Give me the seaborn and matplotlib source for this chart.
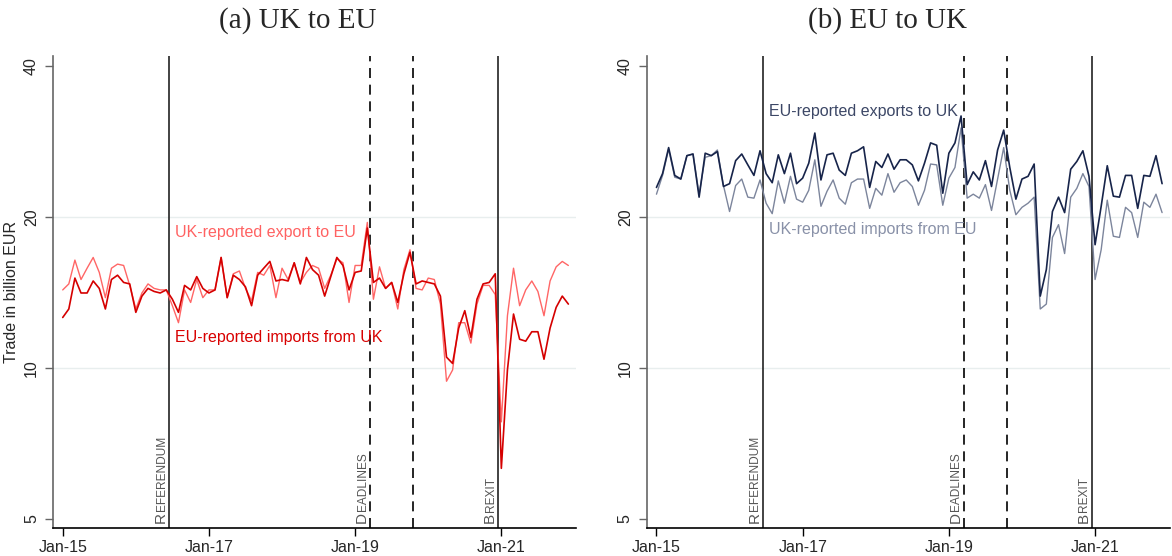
import numpy as np
import pandas as pd
import seaborn as sns
import matplotlib.pyplot as plt
import matplotlib.transforms as mtransforms
from matplotlib.ticker import NullLocator
from matplotlib.textpath import TextToPath
from matplotlib.font_manager import FontProperties

# monthly trade, billion EUR, Jan-2015 .. Dec-2021
months = pd.date_range("2015-01-01", periods=84, freq="MS")

uk_export_to_eu = [
    14.3, 14.7, 16.4, 15.0, 15.8, 16.6, 15.5, 13.8, 15.8, 16.1, 16.0, 14.6,
    13.1, 14.1, 14.7, 14.4, 14.3, 14.3, 13.3, 12.3, 14.3, 13.5, 15.0, 13.8,
    14.3, 14.3, 16.6, 13.8, 15.4, 15.6, 14.4, 13.6, 15.5, 15.3, 16.0, 13.8,
    15.8, 15.0, 16.2, 14.8, 15.5, 16.0, 15.8, 14.4, 15.3, 16.5, 16.2, 13.5,
    16.0, 16.0, 19.5, 13.7, 15.9, 14.4, 14.8, 13.1, 15.7, 17.2, 14.4, 14.3,
    15.1, 15.0, 13.4, 9.4, 9.9, 12.3, 12.3, 11.2, 13.4, 14.6, 14.6, 14.0,
    7.8, 12.7, 15.8, 13.3, 14.3, 14.9, 14.2, 12.7, 14.9, 15.9, 16.3, 16.0,
]
eu_import_from_uk = [
    12.6, 13.1, 15.1, 14.1, 14.1, 14.9, 14.4, 13.1, 15.0, 15.3, 14.8, 14.7,
    12.9, 13.9, 14.4, 14.2, 14.1, 14.3, 13.7, 12.9, 14.6, 14.3, 15.2, 14.4,
    14.1, 14.3, 16.6, 13.8, 15.3, 15.0, 14.5, 13.3, 15.3, 15.8, 16.3, 14.9,
    15.0, 14.9, 16.2, 14.7, 16.6, 15.7, 15.3, 13.9, 15.2, 16.6, 16.0, 14.3,
    15.5, 15.6, 19.0, 14.8, 15.1, 14.4, 14.8, 13.5, 15.4, 17.0, 14.7, 14.9,
    14.8, 14.7, 13.9, 10.5, 10.2, 12.0, 13.0, 11.5, 13.7, 14.7, 14.8, 15.4,
    6.3, 9.9, 12.8, 11.4, 11.3, 11.8, 11.8, 10.4, 12.0, 13.2, 13.9, 13.4,
]
eu_export_to_uk = [
    22.9, 24.4, 27.5, 24.2, 23.8, 26.5, 26.7, 21.9, 26.8, 26.5, 27.0, 23.0,
    23.3, 25.9, 26.7, 25.4, 24.2, 27.1, 24.4, 23.4, 26.6, 24.4, 26.8, 23.3,
    23.9, 25.6, 29.4, 23.7, 26.6, 26.8, 24.8, 24.2, 26.8, 27.1, 27.6, 22.9,
    25.8, 25.1, 26.7, 24.9, 26.0, 26.0, 25.4, 23.6, 25.6, 28.1, 27.8, 22.3,
    26.8, 28.1, 31.8, 23.2, 24.6, 23.7, 25.9, 23.0, 27.2, 29.8, 25.1, 21.7,
    23.8, 24.1, 25.5, 13.9, 15.7, 20.5, 21.9, 20.4, 24.9, 25.8, 27.1, 24.1,
    17.6, 21.0, 25.3, 22.0, 21.9, 24.2, 24.2, 20.8, 24.2, 24.1, 26.5, 23.3,
]
uk_import_from_eu = [
    22.2, 24.2, 27.3, 24.0, 23.8, 26.5, 26.7, 22.2, 26.3, 26.5, 27.2, 23.1,
    20.5, 23.1, 23.8, 21.9, 21.8, 23.7, 21.3, 20.3, 23.6, 21.3, 24.1, 21.7,
    21.4, 22.6, 26.0, 21.0, 22.5, 23.7, 21.8, 21.2, 23.4, 23.8, 23.8, 20.8,
    22.8, 22.1, 24.4, 22.4, 23.4, 23.7, 23.0, 21.1, 22.6, 25.5, 25.4, 21.1,
    23.9, 25.1, 30.1, 21.8, 22.2, 21.8, 23.2, 20.6, 23.8, 27.5, 22.6, 20.2,
    20.9, 21.3, 21.9, 13.1, 13.4, 18.2, 19.3, 16.9, 21.9, 22.8, 24.4, 23.0,
    15.0, 17.2, 21.6, 18.3, 18.2, 20.9, 20.4, 18.2, 21.4, 20.9, 22.2, 20.4,
]

# events (line drawn half a month after the listed month)
event_months = ["2016-06", "2019-03", "2019-10", "2020-12"]
event_labels = ["Referendum", "Deadlines", None, "Brexit"]
event_styles = ["-", (0, (6, 4)), (0, (6, 4)), "-"]

y_ticks = [5, 10, 20, 40]
y_grid = [10, 20]

# (values, line colour, line width, label, label colour, label y)
panels = [
    dict(title="(a) UK to EU", left=0.0452,
         series=[(uk_export_to_eu, "#ff6666", 1.0, "UK-reported export to EU", "#ff6262", 18.6),
                 (eu_import_from_uk, "#d50000", 1.2, "EU-reported imports from UK", "#d80000", 11.5)]),
    dict(title="(b) EU to UK", left=0.5518,
         series=[(uk_import_from_eu, "#7c859c", 1.0, "UK-reported imports from EU", "#8991a8", 18.9),
                 (eu_export_to_uk, "#17244a", 1.2, "EU-reported exports to UK", "#3c4766", 32.4)]),
]

sns.set_style("white")
plt.rcParams["font.family"] = ["Liberation Sans", "DejaVu Sans"]

x = np.arange(len(months))
tick_idx = [i for i, d in enumerate(months) if d.month == 1 and d.year % 2 == 1]
tick_lab = [months[i].strftime("%b-%y") for i in tick_idx]
ev_x = [months.get_loc(pd.Timestamp(m)) + 0.5 for m in event_months]

ttp = TextToPath()


def smallcaps(ax, xpos, word, big=11.0, small=8.6):
    # stata-style small caps, vertical text left of the line
    fp = FontProperties(family="Liberation Sans", size=big)
    w, _, _ = ttp.get_text_width_height_descent(word[0], fp, ismath=False)
    trans = mtransforms.blended_transform_factory(ax.transData, ax.transAxes)
    kw = dict(xy=(xpos, 0), xycoords=trans, textcoords="offset points",
              rotation=90, rotation_mode="anchor", ha="left", va="baseline",
              color="#555555")
    ax.annotate(word[0].upper(), xytext=(-3.4, 3.6), fontsize=big, **kw)
    ax.annotate(word[1:].upper(), xytext=(-3.4, 3.6 + w + 0.8), fontsize=small, **kw)


fig = plt.figure(figsize=(11.72, 5.56), dpi=100)

for k, p in enumerate(panels):
    ax = fig.add_axes([p["left"], 0.0504, 0.4465, 0.849])
    for yg in y_grid:
        ax.axhline(yg, color="#e8eeee", lw=1.0, zorder=0)

    for vals, col, lw, lab, tcol, ly in p["series"]:
        sns.lineplot(x=x, y=vals, ax=ax, color=col, lw=lw)
        ax.text(18.5, ly, lab, color=tcol, fontsize=11.5, va="center", ha="left")

    for ex, lab, ls in zip(ev_x, event_labels, event_styles):
        ax.axvline(ex, color="#222222" if ls == "-" else "black", lw=1.2, ls=ls, zorder=1)
        if lab:
            smallcaps(ax, ex, lab)

    ax.set_yscale("log")
    ax.set_ylim(4.79, 41.9)
    ax.set_xlim(-1.6, 84.3)
    ax.yaxis.set_minor_locator(NullLocator())
    ax.set_yticks(y_ticks)
    ax.set_yticklabels([str(t) for t in y_ticks], rotation=90, va="center", fontsize=11.5)
    ax.set_xticks(tick_idx)
    ax.set_xticklabels(tick_lab, fontsize=11.5)
    ax.tick_params(axis="y", length=6, width=1, color="#666666", pad=4, left=True)
    ax.tick_params(axis="x", length=6, width=1, color="black", pad=3, bottom=True)

    sns.despine(ax=ax)
    ax.spines["left"].set_color("#666666")
    ax.spines["left"].set_linewidth(1.2)
    ax.spines["bottom"].set_color("black")
    ax.spines["bottom"].set_linewidth(1.2)

    if k == 0:
        ax.set_ylabel("Trade in billion EUR", fontsize=11.5, labelpad=4)
    else:
        ax.set_ylabel("")

fig.text(298 / 1172, 1 - 21 / 556, panels[0]["title"], ha="center", va="center",
         fontsize=21, family="Liberation Serif")
fig.text(888 / 1172, 1 - 21 / 556, panels[1]["title"], ha="center", va="center",
         fontsize=21, family="Liberation Serif")

fig.savefig("out.png", dpi=100)
